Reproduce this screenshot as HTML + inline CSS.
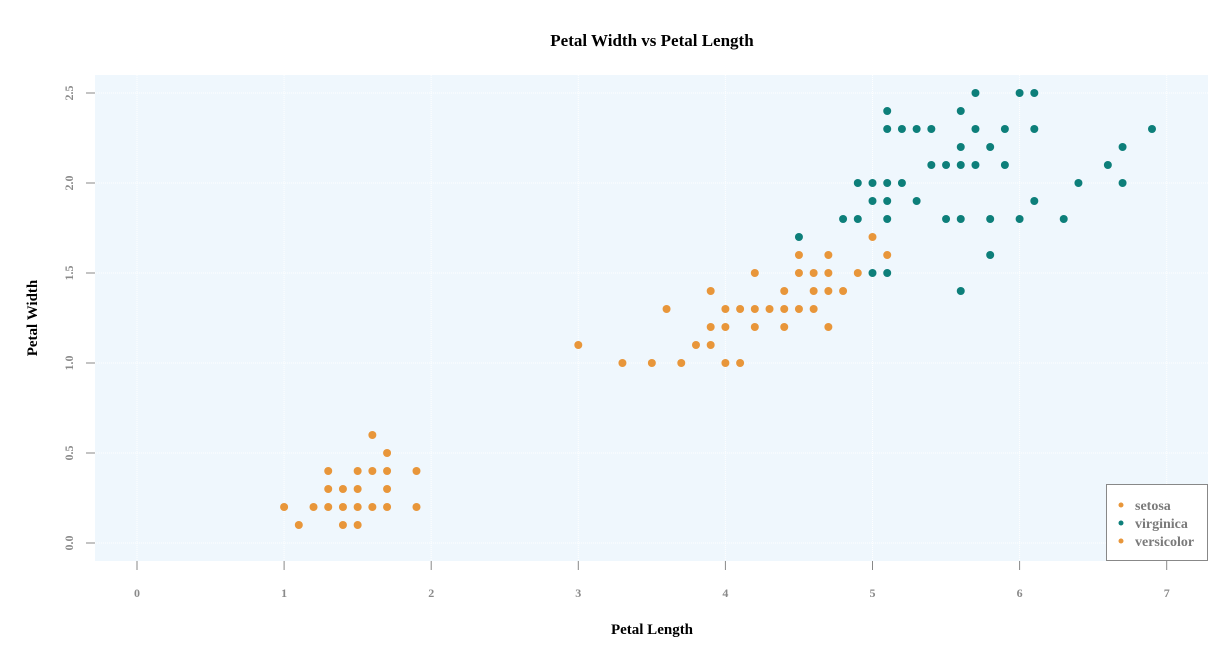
<!DOCTYPE html>
<html><head><meta charset="utf-8"><style>
html,body{margin:0;padding:0;background:#fff;}
svg{display:block;font-family:"Liberation Serif",serif;}
</style></head><body>
<svg id="chart" width="1228" height="657">
<text x="652" y="46" text-anchor="middle" font-size="17" font-weight="bold" fill="#000">Petal Width vs Petal Length</text>
<rect x="95" y="75" width="1113" height="486" fill="#eff7fd"/>
<g id="grid"></g>
<g id="axes"></g>
<g id="points"></g>
<text x="652" y="634" text-anchor="middle" font-size="15" font-weight="bold" fill="#000">Petal Length</text>
<text transform="translate(37,318) rotate(-90)" text-anchor="middle" font-size="15" font-weight="bold" fill="#000">Petal Width</text>
<g>
<rect x="1106.5" y="484.5" width="101" height="76" fill="#fff" stroke="#888"/>
<circle cx="1121" cy="505" r="2.5" fill="#e8963a"/>
<text x="1135" y="510" font-size="14" font-weight="bold" fill="#7a7a7a">setosa</text>
<circle cx="1121" cy="523" r="2.5" fill="#0d7f7a"/>
<text x="1135" y="528" font-size="14" font-weight="bold" fill="#7a7a7a">virginica</text>
<circle cx="1121" cy="541" r="2.5" fill="#e8963a"/>
<text x="1135" y="546" font-size="14" font-weight="bold" fill="#7a7a7a">versicolor</text>
</g>
</svg>
<script>
const xTicks=[0,1,2,3,4,5,6,7];
const yTicks=[0,0.5,1,1.5,2,2.5];
const yTickLabels=["0.0","0.5","1.0","1.5","2.0","2.5"];
const setosaLen=[1.0,1.1,1.2,1.3,1.3,1.3,1.4,1.4,1.4,1.5,1.5,1.5,1.5,1.6,1.6,1.6,1.7,1.7,1.7,1.7,1.9,1.9];
const setosaWid=[0.2,0.1,0.2,0.2,0.3,0.4,0.1,0.2,0.3,0.1,0.2,0.3,0.4,0.2,0.4,0.6,0.2,0.3,0.4,0.5,0.2,0.4];
const versiLen=[3.0,3.3,3.5,3.6,3.7,3.8,3.9,3.9,3.9,4.0,4.0,4.0,4.1,4.1,4.2,4.2,4.2,4.3,4.4,4.4,4.4,4.5,4.5,4.5,4.6,4.6,4.6,4.7,4.7,4.7,4.7,4.8,4.9,5.0,5.1];
const versiWid=[1.1,1.0,1.0,1.3,1.0,1.1,1.1,1.2,1.4,1.0,1.2,1.3,1.0,1.3,1.2,1.3,1.5,1.3,1.2,1.3,1.4,1.3,1.5,1.6,1.3,1.4,1.5,1.2,1.4,1.5,1.6,1.4,1.5,1.7,1.6];
const virgLen=[5.7,6.0,6.1,5.1,5.6,5.1,5.2,5.3,5.4,5.7,5.9,6.1,6.9,5.6,5.8,6.7,5.4,5.5,5.6,5.7,5.9,6.6,4.9,5.0,5.1,5.2,6.4,6.7,5.0,5.1,5.3,6.1,4.8,4.9,5.1,5.5,5.6,5.8,6.0,6.3,5.8,5.0,5.1,5.6,4.5];
const virgWid=[2.5,2.5,2.5,2.4,2.4,2.3,2.3,2.3,2.3,2.3,2.3,2.3,2.3,2.2,2.2,2.2,2.1,2.1,2.1,2.1,2.1,2.1,2.0,2.0,2.0,2.0,2.0,2.0,1.9,1.9,1.9,1.9,1.8,1.8,1.8,1.8,1.8,1.8,1.8,1.8,1.6,1.5,1.5,1.4,1.7];
const NS='http://www.w3.org/2000/svg';
const xs=v=>137+147.1*v;
const ys=v=>543-180*v;
function mk(tag,attrs,parent){const e=document.createElementNS(NS,tag);for(const k in attrs)e.setAttribute(k,attrs[k]);parent.appendChild(e);return e;}
const grid=document.getElementById('grid'),axes=document.getElementById('axes'),pts=document.getElementById('points');
xTicks.forEach(t=>{
  const g=mk('line',{x1:xs(t),x2:xs(t),y1:75,y2:561,stroke:'#fff','stroke-width':1,'stroke-dasharray':'1,1'},grid);
  
  
  const tk=mk('line',{x1:xs(t),x2:xs(t),y1:561,y2:570,stroke:'#888'},axes);
  
  
  const l=mk('text',{x:xs(t),y:597,'text-anchor':'middle','font-size':12,'font-weight':'bold',fill:'#8a8a8a'},axes);
  l.textContent=t;
  
  
});
yTicks.forEach((t,i)=>{
  const g=mk('line',{x1:95,x2:1208,y1:ys(t),y2:ys(t),stroke:'#fff','stroke-width':1,'stroke-dasharray':'1,1'},grid);
  
  
  const tk=mk('line',{x1:86,x2:95,y1:ys(t),y2:ys(t),stroke:'#888'},axes);
  
  
  const l=mk('text',{transform:`translate(73,${ys(t)}) rotate(-90)`,'text-anchor':'middle','font-size':12,'font-weight':'bold',fill:'#8a8a8a'},axes);
  l.textContent=yTickLabels[i];
  
  
});
function series(L,W,color,name){
  L.forEach((v,i)=>{
    const c=mk('circle',{cx:xs(v),cy:ys(W[i]),r:4,fill:color},pts);
    
    
  });
}
series(setosaLen,setosaWid,'#e8963a','setosa');
series(versiLen,versiWid,'#e8963a','versicolor');
series(virgLen,virgWid,'#0d7f7a','virginica');
</script>
</body></html>
